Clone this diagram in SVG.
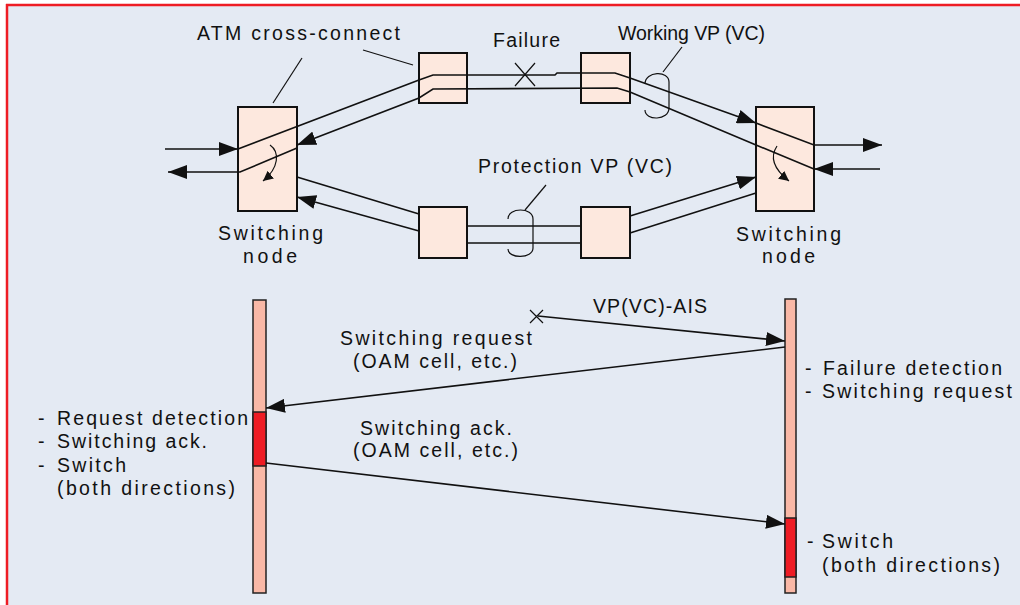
<svg xmlns="http://www.w3.org/2000/svg" width="1020" height="605" viewBox="0 0 1020 605">
<style>
text{font-family:"Liberation Sans",Arial,sans-serif;font-size:19.5px;fill:#111}
.node{fill:#fde8de;stroke:#111;stroke-width:2}
.bar{fill:#f9b8a6;stroke:#222;stroke-width:1.5}
.act{fill:#ee1c24;stroke:#222;stroke-width:1.5}
.ln{fill:none;stroke:#111;stroke-width:1.6}
.thin{fill:none;stroke:#111;stroke-width:1.2}
</style>
<defs>
<marker id="ah" markerUnits="userSpaceOnUse" markerWidth="20" markerHeight="14" refX="19" refY="7" orient="auto"><path d="M0,0 L19,7 L0,14 z" fill="#111"/></marker>
<marker id="ahs" markerUnits="userSpaceOnUse" markerWidth="11" markerHeight="10" refX="10" refY="5" orient="auto"><path d="M0,0 L10,5 L0,10 z" fill="#111"/></marker>
</defs>
<rect x="0" y="0" width="1020" height="605" fill="#fff"/>
<rect x="7" y="5" width="1013" height="600" fill="#e4eaf3"/>
<line x1="6" y1="5" x2="1020" y2="5" stroke="#ee1c24" stroke-width="2.5"/>
<line x1="7" y1="4" x2="7" y2="605" stroke="#ee1c24" stroke-width="2.5"/>

<g id="switch-left"><rect class="node" x="238" y="107" width="59" height="104"/></g>
<g id="switch-right"><rect class="node" x="756" y="107" width="58" height="104"/></g>
<g id="xc-top-left"><rect class="node" x="419" y="53" width="48" height="50"/></g>
<g id="xc-top-right"><rect class="node" x="581" y="53" width="49" height="50"/></g>
<g id="xc-bot-left"><rect class="node" x="419" y="207" width="48" height="51"/></g>
<g id="xc-bot-right"><rect class="node" x="581" y="207" width="49" height="51"/></g>
<g id="bar-left"><rect class="bar" x="253" y="300" width="13" height="293"/><rect class="act" x="253" y="412" width="13" height="54"/></g>
<g id="bar-right"><rect class="bar" x="785" y="299" width="11" height="294"/><rect class="act" x="785" y="518" width="11" height="59"/></g>

<g id="connectors">
<path class="ln" d="M165,149 L238,149" marker-end="url(#ah)"/>
<path class="ln" d="M238,149 L419,80 L433,75 L555,75 L557,73 L615,73 L630,78 L756,123" marker-end="url(#ah)"/>
<path class="ln" d="M756,123 L814,145 L882,145" marker-end="url(#ah)"/>
<path class="ln" d="M880,169 L814,169" marker-end="url(#ah)"/>
<path class="ln" d="M814,169 L756,145 L630,92 L617,88 L433,89 L419,98 L297,145" marker-end="url(#ah)"/>
<path class="ln" d="M297,148 L240,172 L168,172" marker-end="url(#ah)"/>
<path class="ln" d="M297,177 L419,214"/>
<path class="ln" d="M467,226 L581,226"/>
<path class="ln" d="M630,216 L756,177" marker-end="url(#ah)"/>
<path class="ln" d="M756,193 L630,233"/>
<path class="ln" d="M581,243 L467,243"/>
<path class="ln" d="M419,231 L297,197" marker-end="url(#ah)"/>
<path class="thin" d="M270,145 C280,152 279,168 263,181" marker-end="url(#ahs)"/>
<path class="thin" d="M777,146 C769,158 775,170 789,181" marker-end="url(#ahs)"/>
<path class="thin" d="M515,63 L535,86 M535,63 L515,86"/>
<path class="thin" d="M645,84 C645,71 669,70 669,82 L669,108 C669,121 645,121 645,110"/>
<path class="thin" d="M508,219 C508,207 533,207 533,219 L533,248 C533,259 508,259 508,249"/>
<path class="thin" d="M663,72 L682,47"/>
<path class="thin" d="M525,210 L546,185"/>
<path class="thin" d="M302,58 L273,103"/>
<path class="thin" d="M363,50 L413,65"/>
<path class="thin" d="M530,310 L543,323 M543,310 L530,323"/>
<path class="ln" d="M538,316 L785,341" marker-end="url(#ah)"/>
<path class="ln" d="M785,347 L266,408" marker-end="url(#ah)"/>
<path class="ln" d="M266,463 L785,524" marker-end="url(#ah)"/>
</g>

<g id="labels">
<text x="197" y="40" textLength="203" lengthAdjust="spacing">ATM cross-connect</text>
<text x="493" y="47" textLength="67" lengthAdjust="spacing">Failure</text>
<text x="618" y="40" textLength="147" lengthAdjust="spacing">Working VP (VC)</text>
<text x="478" y="173" textLength="194" lengthAdjust="spacing">Protection VP (VC)</text>
<text x="218" y="240" textLength="105" lengthAdjust="spacing">Switching</text>
<text x="243" y="263" textLength="54" lengthAdjust="spacing">node</text>
<text x="736" y="241" textLength="105" lengthAdjust="spacing">Switching</text>
<text x="762" y="263" textLength="53" lengthAdjust="spacing">node</text>
<text x="593" y="313" textLength="114" lengthAdjust="spacing">VP(VC)-AIS</text>
<text x="340" y="345" textLength="192" lengthAdjust="spacing">Switching request</text>
<text x="353" y="368" textLength="164" lengthAdjust="spacing">(OAM cell, etc.)</text>
<text x="360" y="435" textLength="152" lengthAdjust="spacing">Switching ack.</text>
<text x="353" y="457" textLength="165" lengthAdjust="spacing">(OAM cell, etc.)</text>
<text x="38" y="425">-</text>
<text x="57" y="425" textLength="191" lengthAdjust="spacing">Request detection</text>
<text x="38" y="448">-</text>
<text x="57" y="448" textLength="150" lengthAdjust="spacing">Switching ack.</text>
<text x="38" y="472">-</text>
<text x="57" y="472" textLength="69" lengthAdjust="spacing">Switch</text>
<text x="57" y="495" textLength="178" lengthAdjust="spacing">(both directions)</text>
<text x="805" y="375">-</text>
<text x="823" y="375" textLength="179" lengthAdjust="spacing">Failure detection</text>
<text x="805" y="398">-</text>
<text x="822" y="398" textLength="190" lengthAdjust="spacing">Switching request</text>
<text x="807" y="548">-</text>
<text x="822" y="548" textLength="71" lengthAdjust="spacing">Switch</text>
<text x="822" y="572" textLength="178" lengthAdjust="spacing">(both directions)</text>
</g>
</svg>
